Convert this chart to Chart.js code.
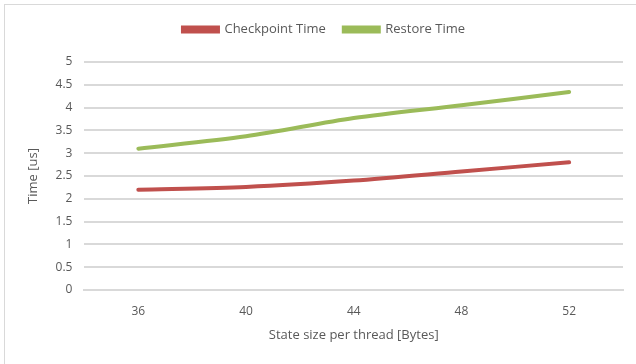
<!DOCTYPE html>
<html>
<head>
<meta charset="utf-8">
<script src="https://cdn.jsdelivr.net/npm/chart.js@4"></script>
<style>
    html, body { margin: 0; padding: 0; background: #fff; }
    #frame {
        position: absolute; left: 4px; top: 4px; width: 640px; height: 370px;
        border: 1px solid #d9d9d9; box-sizing: border-box;
    }
    #wrap { position: absolute; left: 0; top: 0; width: 636px; height: 364px; }
</style>
</head>
<body>
<div id="frame"></div>
<div id="wrap"><canvas id="chart"></canvas></div>
<script>
// Chart data
const stateSizes = ['36', '40', '44', '48', '52'];
const checkpointTime = [2.2, 2.26, 2.4, 2.6, 2.8];
const restoreTime = [3.1, 3.37, 3.77, 4.05, 4.34];
const yTicks = [0, 0.5, 1, 1.5, 2, 2.5, 3, 3.5, 4, 4.5, 5];

const textColor = '#595959';
const gridColor = '#d9d9d9';
const fontFamily = "'Open Sans', 'DejaVu Sans', sans-serif";

// extra space below the legend
const legendGap = {
    id: 'legendGap',
    beforeInit(chart) {
        const fit = chart.legend.fit;
        chart.legend.fit = function () {
            fit.bind(chart.legend)();
            this.height += 16;
        };
    }
};

new Chart(document.getElementById('chart'), {
    type: 'line',
    data: {
        labels: stateSizes,
        datasets: [
            {
                label: 'Checkpoint Time',
                data: checkpointTime,
                borderColor: '#c0504d',
                backgroundColor: '#c0504d',
                borderWidth: 4,
                borderCapStyle: 'round',
                tension: 0.3,
                pointRadius: 0
            },
            {
                label: 'Restore Time',
                data: restoreTime,
                borderColor: '#9bbb59',
                backgroundColor: '#9bbb59',
                borderWidth: 4,
                borderCapStyle: 'round',
                tension: 0.3,
                pointRadius: 0
            }
        ]
    },
    options: {
        responsive: true,
        maintainAspectRatio: false,
        animation: false,
        layout: { padding: { left: 25, right: 13, top: 5, bottom: 17 } },
        plugins: {
            legend: {
                position: 'top',
                labels: {
                    color: textColor,
                    font: { family: fontFamily, size: 13 },
                    boxWidth: 35,
                    boxHeight: 4,
                    padding: 18
                }
            },
            tooltip: { enabled: false }
        },
        scales: {
            x: {
                offset: true,
                grid: { display: false },
                border: { color: gridColor, width: 2 },
                ticks: { color: textColor, font: { family: fontFamily, size: 12 }, padding: 6 },
                title: {
                    display: true,
                    text: 'State size per thread [Bytes]',
                    color: textColor,
                    font: { family: fontFamily, size: 13 },
                    padding: { top: 3, bottom: 4 }
                }
            },
            y: {
                min: 0,
                max: 5,
                afterBuildTicks: axis => { axis.ticks = yTicks.map(v => ({ value: v })); },
                grid: { color: gridColor, lineWidth: 2, drawTicks: false },
                border: { display: false },
                ticks: {
                    color: textColor,
                    font: { family: fontFamily, size: 12 },
                    padding: 12,
                    callback: v => String(v)
                },
                title: {
                    display: true,
                    text: 'Time [us]',
                    color: textColor,
                    font: { family: fontFamily, size: 13 },
                    padding: { top: 0, bottom: 3 }
                }
            }
        }
    },
    plugins: [legendGap]
});
</script>
</body>
</html>
